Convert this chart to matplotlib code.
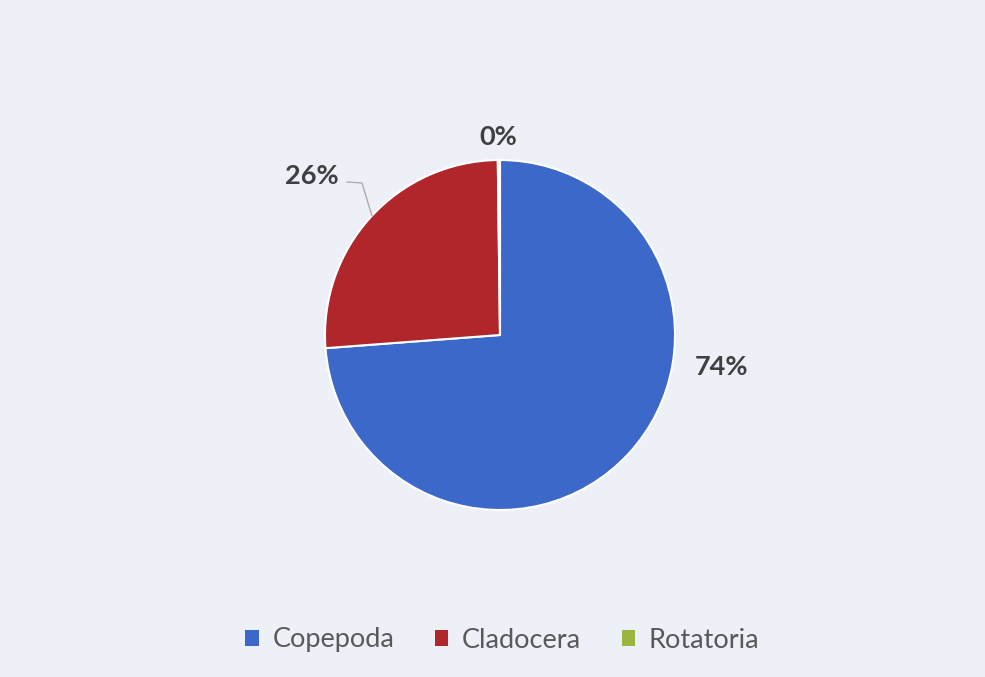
import matplotlib.pyplot as plt
from matplotlib.patches import Patch

categories = ['Copepoda', 'Cladocera', 'Rotatoria']
values = [73.8, 26.0, 0.2]
colors = ['#3b68c9', '#b0262b', '#9bb63f']
pct_labels = ['74%', '26%', '0%']

bg = '#eef0f8'
fig = plt.figure(figsize=(9.85, 6.77), dpi=100, facecolor=bg)
ax = fig.add_axes([0, 0, 1, 1])
ax.set_facecolor(bg)

ax.pie(values, colors=colors, startangle=90, counterclock=False,
       center=(500, 342), radius=175, frame=True,
       wedgeprops=dict(edgecolor='white', linewidth=1.5))
ax.set_xlim(0, 985)
ax.set_ylim(0, 677)
ax.set_aspect('equal')
ax.axis('off')

lbl = dict(fontsize=19.5, fontweight='bold', color='#404040',
           family='Lato', ha='center', va='center')
ax.text(721, 677 - 367, pct_labels[0], **lbl)
ax.text(312, 677 - 176, pct_labels[1], **lbl)
ax.text(498, 677 - 137, pct_labels[2], **lbl)

# leader line for 26%
ax.plot([347, 362, 372], [677 - 182, 677 - 183, 677 - 216],
        color='#a6a6a6', linewidth=0.9)

handles = [Patch(facecolor=c, edgecolor='none') for c in colors]
fig.legend(handles, categories, loc='center', bbox_to_anchor=(0.51, 1 - 640 / 677),
           ncol=3, frameon=False, handlelength=0.5, handleheight=0.5,
           columnspacing=1.5, handletextpad=0.5,
           prop={'family': 'Lato', 'size': 19.5}, labelcolor='#595959')

fig.savefig('out.png', dpi=100, facecolor=bg)
